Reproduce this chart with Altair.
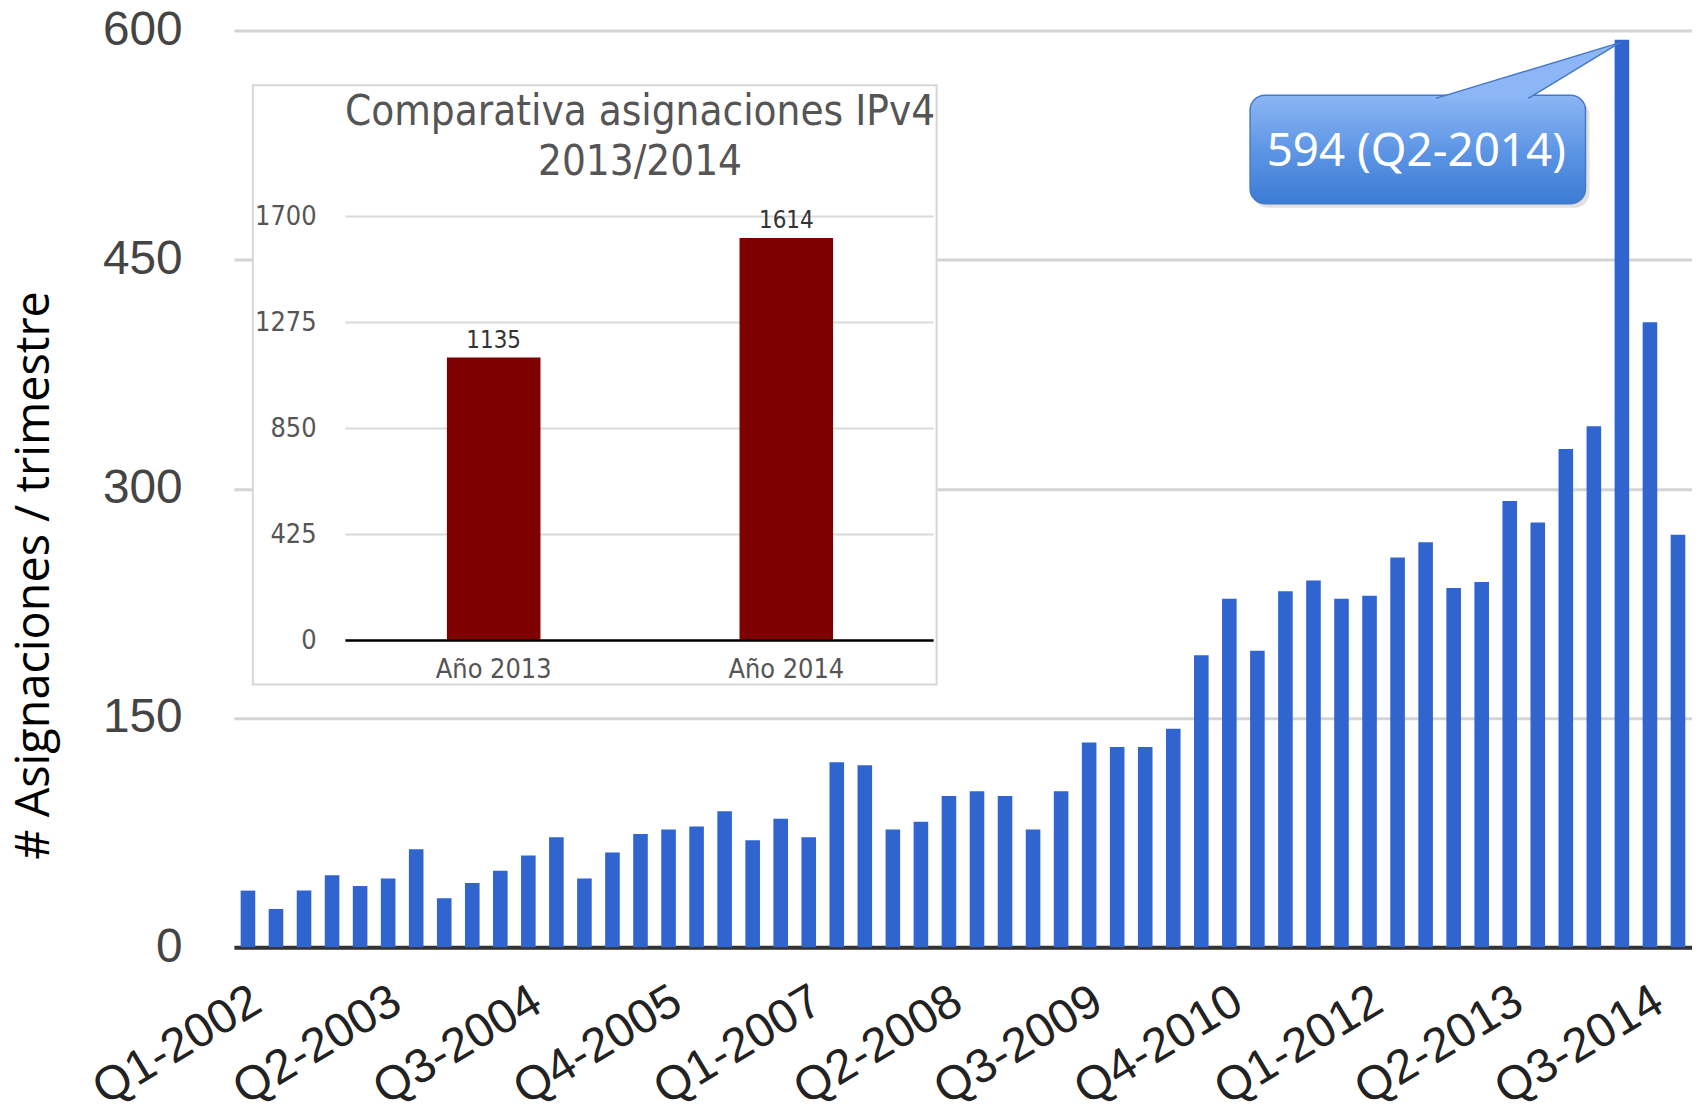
import altair as alt
import pandas as pd

# ---------------- data ----------------
years = list(range(2002, 2015))
quarter_nums = [1, 2, 3, 4]
quarters = [f"Q{q}-{y}" for y in years for q in quarter_nums]
values = [37, 25, 37, 47, 40, 45, 64, 32, 42, 50, 60, 72,
          45, 62, 74, 77, 79, 89, 70, 84, 72, 121, 119, 77,
          82, 99, 102, 99, 77, 102, 134, 131, 131, 143, 191, 228,
          194, 233, 240, 228, 230, 255, 265, 235, 239, 292, 278, 326,
          341, 594, 409, 270]
x_tick_labels = quarters[::5]
y_ticks = [0, 150, 300, 450, 600]

inset_years = ["Año 2013", "Año 2014"]
inset_totals = [1135, 1614]
inset_ticks = [0, 425, 850, 1275, 1700]
inset_title = ["Comparativa asignaciones IPv4", "2013/2014"]

df = pd.DataFrame({"trimestre": quarters, "asignaciones": values})
inset_df = pd.DataFrame({"anio": inset_years, "total": inset_totals})
ticks_df = pd.DataFrame({"tick": inset_ticks})
one_df = pd.DataFrame({"k": [0]})

W, H = 1465, 921
BLUE = "#3064cf"

# ---------------- main chart ----------------
x_main = alt.X(
    "trimestre:N", sort=None,
    scale=alt.Scale(domain=quarters, paddingInner=0.48, paddingOuter=0.24),
    axis=alt.Axis(values=x_tick_labels, labelAngle=329, labelAlign="right",
                  labelBaseline="top", labelFont="Liberation Sans",
                  labelFontSize=48, labelColor="#222222", labelPadding=30,
                  labelOffset=-3, labelOverlap=False, labelBound=False,
                  labelLimit=600, ticks=False, domainColor="#333333",
                  domainWidth=4, grid=False, title=None))
y_main = alt.Y(
    "asignaciones:Q",
    scale=alt.Scale(domain=[0, 600], nice=False),
    axis=alt.Axis(values=y_ticks, grid=True, gridColor="#d4d4d4", gridWidth=3,
                  domain=False, ticks=False, labelFont="Liberation Sans",
                  labelFontSize=48, labelColor="#444444", labelPadding=52,
                  title="# Asignaciones / trimestre", titleFont="Open Sans",
                  titleFontSize=47, titleFontWeight="normal", titleColor="#000000",
                  titleX=-200, titleY=547, titleAngle=270, titleAlign="center",
                  titleBaseline="middle", titleLimit=1000))

bars = alt.Chart(df).mark_bar(color=BLUE).encode(x=x_main, y=y_main)

peak = (alt.Chart(df)
        .transform_joinaggregate(mx="max(asignaciones)")
        .transform_filter("datum.asignaciones == datum.mx")
        .transform_calculate(label="datum.asignaciones + ' (' + datum.trimestre + ')'"))

grad = alt.LinearGradient(
    gradient="linear",
    stops=[alt.GradientStop(color="#8cb6f5", offset=0),
           alt.GradientStop(color="#5a93e3", offset=0.55),
           alt.GradientStop(color="#3b7cd4", offset=1)],
    x1=0, x2=0, y1=0, y2=1)

shadow = peak.mark_rect(fill="#000000", opacity=0.12, cornerRadius=15).encode(
    x=alt.value(1024), x2=alt.value(1362), y=alt.value(70), y2=alt.value(178))
callout_box = peak.mark_rect(fill=grad, stroke="#4678c6", strokeWidth=1.5,
                             cornerRadius=15).encode(
    x=alt.value(1021), x2=alt.value(1358), y=alt.value(65), y2=alt.value(174))
pointer = peak.mark_point(shape="M -187 59 L -2 3 L -94 59", size=4, filled=True,
                          fill="#8cb6f5", stroke="#4678c6", strokeWidth=1.5,
                          opacity=1, fillOpacity=1, strokeOpacity=1).encode(
    x=x_main, y=y_main)
callout_text = peak.mark_text(font="Noto Sans", fontSize=46, color="white",
                              align="center", baseline="alphabetic").encode(
    x=alt.value(1188), y=alt.value(136), text="label:N")

main = alt.layer(bars, shadow, callout_box, pointer, callout_text)

# ---------------- inset chart ----------------
IFONT = "DejaVu Sans Condensed, Noto Sans"
ix_scale = alt.Scale(domain=inset_years, range=[114, 702], paddingInner=0, paddingOuter=0)
iy_scale = alt.Scale(domain=[0, 1700], range=[613, 187], nice=False, zero=True)

inset_box = alt.Chart(one_df).mark_rect(fill="white", stroke="#d6d6d6", strokeWidth=2).encode(
    x=alt.value(19), x2=alt.value(706), y=alt.value(55), y2=alt.value(657))
inset_grid = alt.Chart(ticks_df).mark_rule(color="#d9d9d9", strokeWidth=2).encode(
    y=alt.Y("tick:Q", scale=iy_scale, axis=None), x=alt.value(112), x2=alt.value(703))
inset_bars = alt.Chart(inset_df).mark_bar(size=94, color="#7f0000").encode(
    x=alt.X("anio:N", scale=ix_scale, axis=None, sort=None),
    y=alt.Y("total:Q", scale=iy_scale, axis=None))
inset_base = alt.Chart(ticks_df).transform_filter("datum.tick == 0").mark_rule(
    color="#000000", strokeWidth=2.5).encode(
    y=alt.Y("tick:Q", scale=iy_scale, axis=None), x=alt.value(112), x2=alt.value(703))
inset_vals = alt.Chart(inset_df).mark_text(font=IFONT, fontSize=24, color="#333333",
                                           baseline="alphabetic", dy=-10).encode(
    x=alt.X("anio:N", scale=ix_scale, axis=None, sort=None),
    y=alt.Y("total:Q", scale=iy_scale, axis=None), text="total:Q")
inset_ylab = alt.Chart(ticks_df).mark_text(font=IFONT, fontSize=27, color="#555555",
                                           align="right", baseline="middle").encode(
    y=alt.Y("tick:Q", scale=iy_scale, axis=None), x=alt.value(83), text="tick:Q")
inset_xlab = alt.Chart(inset_df).mark_text(font=IFONT, fontSize=27, color="#555555",
                                           baseline="alphabetic").encode(
    x=alt.X("anio:N", scale=ix_scale, axis=None, sort=None), y=alt.value(651),
    text="anio:N")
inset_ttl = alt.Chart(one_df).mark_text(text=inset_title, font=IFONT, fontSize=42,
                                        color="#555555", align="center",
                                        baseline="alphabetic", lineHeight=50).encode(
    x=alt.value(408), y=alt.value(95))

inset = alt.layer(inset_box, inset_grid, inset_bars, inset_base, inset_vals,
                  inset_ylab, inset_xlab, inset_ttl)

chart = (alt.layer(main, inset)
         .resolve_scale(x="independent", y="independent")
         .properties(width=W, height=H, autosize=alt.AutoSizeParams(type="none"),
                     padding={"left": 227, "top": 20, "right": 0, "bottom": 154},
                     background="white")
         .configure_view(strokeWidth=0))

chart.save("out.html", embed_options={"renderer": "svg", "actions": False})
